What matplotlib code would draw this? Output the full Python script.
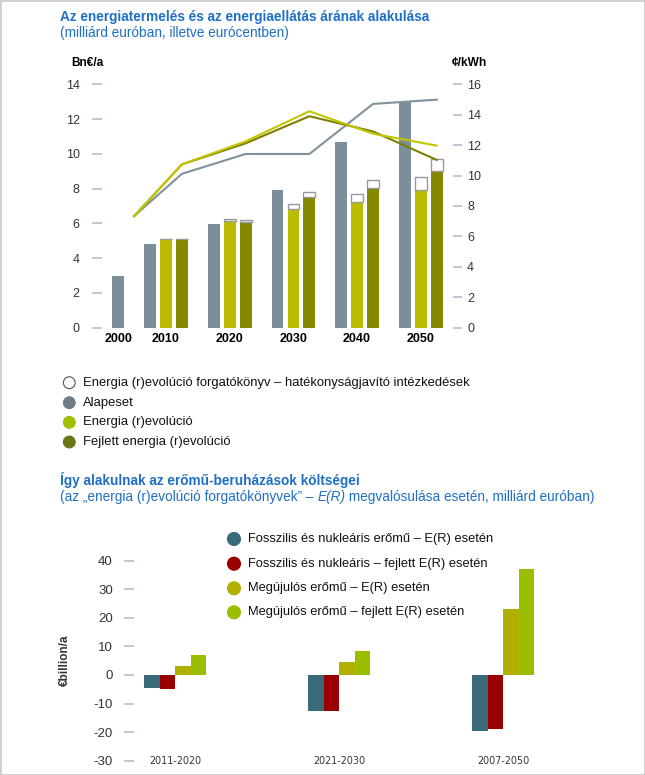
import numpy as np
import matplotlib
matplotlib.use('Agg')
import matplotlib.pyplot as plt
from matplotlib.patches import Rectangle

plt.rcParams['font.family'] = ['Liberation Sans', 'DejaVu Sans']
plt.rcParams['axes.unicode_minus'] = False

# ---- top chart data ----
years = ['2000', '2010', '2020', '2030', '2040', '2050']
ref_cost = [3.0, 4.8, 5.96, 7.9, 10.68, 13.0]              # Alapeset, Bn EUR/a
er_cost = [np.nan, 5.08, 6.14, 6.81, 7.21, 7.92]           # Energia (r)evolucio
er_eff = [np.nan, 0.04, 0.09, 0.29, 0.46, 0.73]            # hatekonysag (white part)
adv_cost = [np.nan, 5.08, 6.08, 7.53, 8.03, 8.99]          # Fejlett energia (r)evolucio
adv_eff = [np.nan, 0.04, 0.10, 0.27, 0.48, 0.69]
ref_price = [7.34, 10.12, 11.42, 11.42, 14.71, 14.99]      # ct/kWh
er_price = [7.34, 10.74, 12.25, 14.23, 12.75, 11.97]
adv_price = [7.34, 10.74, 12.12, 13.9, 12.9, 11.03]

legend1 = ['Energia (r)evolúció forgatókönyv – hatékonyságjavító intézkedések',
           'Alapeset', 'Energia (r)evolúció', 'Fejlett energia (r)evolúció']

# ---- bottom chart data ----
periods = ['2011-2020', '2021-2030', '2007-2050']
fossil_er = [-4.55, -12.5, -19.5]
fossil_adv = [-5.0, -12.5, -19.0]
renew_er = [3.15, 4.7, 23.0]
renew_adv = [7.0, 8.4, 37.0]

legend2 = ['Fosszilis és nukleáris erőmű – E(R) esetén',
           'Fosszilis és nukleáris – fejlett E(R) esetén',
           'Megújulós erőmű – E(R) esetén',
           'Megújulós erőmű – fejlett E(R) esetén']

BLUE = '#1f6fc5'
TICKC = '#b9c4d3'
GRAY = '#7a8f9a'
YEL = '#bcbc00'
OLV = '#878700'
narrow = ['Liberation Sans Narrow', 'Liberation Sans', 'DejaVu Sans']

W, H = 645, 775
fig = plt.figure(figsize=(W / 100, H / 100), dpi=100)


def px_axes(x0, y0, x1, y1):
    return fig.add_axes([x0 / W, 1 - y1 / H, (x1 - x0) / W, (y1 - y0) / H])


# ================= top chart =================
ax = px_axes(102.3, 84.3, 452.6, 327.7)
ax2 = ax.twinx()

pos = np.array([0.5, 1, 2, 3, 4, 5])
bw = 0.184
off = 0.251

ax.bar(pos - off, ref_cost, bw, color=GRAY)
ax.bar(pos, er_cost, bw, color=YEL)
ax.bar(pos, er_eff, bw, bottom=er_cost, color='white', edgecolor='#999999', linewidth=1.0)
ax.bar(pos + off, adv_cost, bw, color=OLV)
ax.bar(pos + off, adv_eff, bw, bottom=adv_cost, color='white', edgecolor='#999999', linewidth=1.0)

line_x = pos + off * (np.arange(len(pos)) > 0)
ax2.plot(line_x, ref_price, color='#7f929c', lw=1.5)
ax2.plot(line_x, adv_price, color='#7f7f00', lw=1.5)
ax2.plot(line_x, er_price, color='#c4c600', lw=1.5)

ax.set_xlim(0, 5.5)
ax.set_ylim(0, 14)
ax2.set_ylim(0, 16)
ax.set_yticks(range(0, 15, 2))
ax2.set_yticks(range(0, 17, 2))

label_x = pos.copy()
label_x[0] = pos[0] - off
ax.set_xticks(label_x)
ax.set_xticklabels(years, fontweight='bold', fontsize=9, family=narrow)
ax.tick_params(axis='x', length=0, pad=4)
ax.tick_params(axis='y', length=7.2, width=1.3, color=TICKC, pad=9, labelsize=9, labelcolor='#333333')
ax2.tick_params(axis='y', length=6.5, width=1.3, color=TICKC, pad=4, labelsize=9, labelcolor='#333333')
for a in (ax, ax2):
    for s in a.spines.values():
        s.set_visible(False)

# ================= bottom chart =================
bx = px_axes(134.3, 560.7, 560.8, 760.7)
gx = np.arange(len(periods))
w2 = 0.0945
bx.bar(gx - 1.5 * w2, fossil_er, w2, color='#396b7a')
bx.bar(gx - 0.5 * w2, fossil_adv, w2, color='#990000')
bx.bar(gx + 0.5 * w2, renew_er, w2, color='#b0b000')
bx.bar(gx + 1.5 * w2, renew_adv, w2, color='#99bf00')
bx.set_xlim(-0.249, 2.35)
bx.set_ylim(-30, 40)
bx.set_yticks(range(-30, 41, 10))
bx.set_xticks([])
bx.tick_params(axis='y', length=7.4, width=1.3, color=TICKC, pad=8, labelsize=9.5, labelcolor='#333333')
for s in bx.spines.values():
    s.set_visible(False)
for x, p in zip(gx, periods):
    bx.text(x, -30, p, ha='center', va='center', fontsize=6.9, color='#333333',
            family='DejaVu Sans')

# ================= overlay: titles, legends =================
ov = fig.add_axes([0, 0, 1, 1], zorder=10)
ov.set_xlim(0, W)
ov.set_ylim(H, 0)
ov.axis('off')
ov.patch.set_alpha(0)

ov.text(60, 20.7, 'Az energiatermelés és az energiaellátás árának alakulása',
        color=BLUE, fontsize=9.8, fontweight='bold', va='baseline')
ov.text(60, 36.5, '(milliárd euróban, illetve eurócentben)', color=BLUE, fontsize=9.8, va='baseline')

ov.text(71, 62.7, 'Bn€/a', fontweight='bold', fontsize=8.6, family=narrow, va='center')
ov.text(451.7, 62.7, '¢/kWh', fontweight='bold', fontsize=8.6, family=narrow, va='center')

leg1_y = [382.7, 402.7, 422.3, 442]
leg1_fc = ['white', '#6f7e86', '#9fbf00', '#6b7514']
leg1_ec = ['#555555', '#6f7e86', '#9fbf00', '#6b7514']
ov.scatter([69.3] * 4, leg1_y, s=72, c=leg1_fc, edgecolors=leg1_ec, linewidths=0.8)
for y, t in zip(leg1_y, legend1):
    ov.text(83.3, y, t, fontsize=9.4, va='center', color='#111111')

ov.text(60, 485, 'Így alakulnak az erőmű-beruházások költségei',
        color=BLUE, fontsize=9.8, fontweight='bold', va='baseline')
t1 = ov.text(60, 501, '(az „energia (r)evolúció forgatókönyvek” – ',
             color=BLUE, fontsize=9.8, va='baseline')
t2 = ov.annotate('E(R)', xy=(1, 0), xycoords=t1, color=BLUE, fontsize=9.8,
                 style='italic', va='bottom', ha='left')
ov.annotate(' megvalósulása esetén, milliárd euróban)', xy=(1, 0), xycoords=t2,
            color=BLUE, fontsize=9.8, va='bottom', ha='left')

leg2_y = [539, 563.7, 588.3, 612.3]
leg2_c = ['#396b7a', '#990000', '#b0b000', '#99bf00']
ov.scatter([234] * 4, leg2_y, s=84, c=leg2_c)
for y, t in zip(leg2_y, legend2):
    ov.text(248.3, y, t, fontsize=9.3, va='center', color='#111111')

ov.text(65, 660, '€billion/a', rotation=90, fontweight='bold', fontsize=8.5,
        family=narrow, ha='center', va='center', color='#333333')

ov.add_patch(Rectangle((0.5, 0.5), W - 1, H - 1, fill=False, edgecolor='#c8c8c8', lw=1.2))

fig.savefig('out.png', dpi=100)
